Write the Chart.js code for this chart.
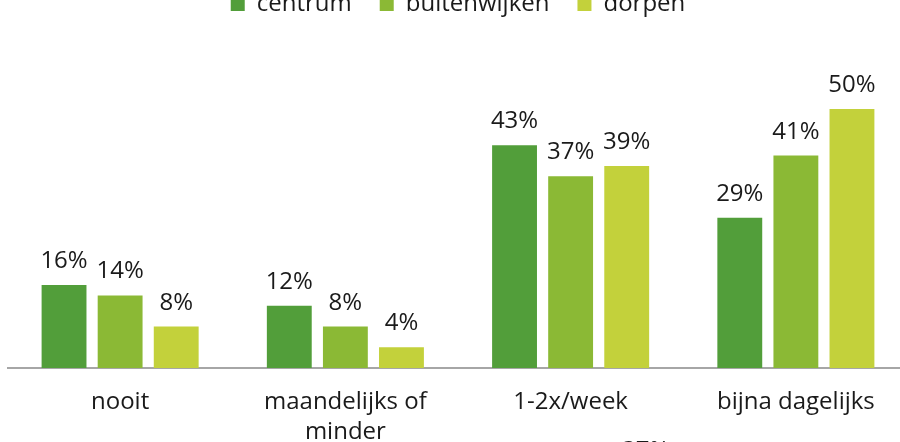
<!DOCTYPE html>
<html>
<head>
<meta charset="utf-8">
<script src="https://cdn.jsdelivr.net/npm/chart.js@4.4.1/dist/chart.umd.min.js"></script>
<style>
  html, body { margin: 0; padding: 0; background: #fff; }
  #wrap { position: relative; width: 900px; height: 442px; overflow: hidden; }
  #box { position: absolute; left: 0; top: -36px; width: 916px; height: 494px; }
  #stray { position: absolute; left: 622px; top: 432px; font: 24px "Open Sans", sans-serif; color: #1a1a1a; }
</style>
</head>
<body>
<div id="wrap">
  <div id="box"><canvas id="chart"></canvas></div>
  <div id="stray">37%</div>
</div>
<script>
const categories = ["nooit", ["maandelijks of", "minder"], "1-2x/week", "bijna dagelijks"];
const centrum = [16, 12, 43, 29];
const buitenwijken = [14, 8, 37, 41];
const dorpen = [8, 4, 39, 50];
const seriesNames = ["centrum", "buitenwijken", "dorpen"];
const colors = ["#529E3A", "#8BB935", "#C3D13B"];

const FONT = "'Open Sans', sans-serif";

// percent labels above each bar
const barLabels = {
  id: "barLabels",
  afterDatasetsDraw(chart) {
    const ctx = chart.ctx;
    ctx.save();
    ctx.font = "24px " + FONT;
    ctx.fillStyle = "#1a1a1a";
    ctx.textAlign = "center";
    ctx.textBaseline = "alphabetic";
    chart.data.datasets.forEach((ds, i) => {
      chart.getDatasetMeta(i).data.forEach((bar, j) => {
        ctx.fillText(ds.data[j] + "%", bar.x, bar.y - 17);
      });
    });
    ctx.restore();
  }
};

const ctx = document.getElementById("chart").getContext("2d");
new Chart(ctx, {
  type: "bar",
  data: {
    labels: categories,
    datasets: [
      { label: seriesNames[0], data: centrum, backgroundColor: colors[0] },
      { label: seriesNames[1], data: buitenwijken, backgroundColor: colors[1] },
      { label: seriesNames[2], data: dorpen, backgroundColor: colors[2] }
    ]
  },
  options: {
    responsive: true,
    maintainAspectRatio: false,
    animation: false,
    datasets: { bar: { barPercentage: 0.8, categoryPercentage: 0.747 } },
    layout: { padding: { left: 7.5, right: 7.5, top: 0, bottom: 0 } },
    plugins: {
      legend: {
        position: "top",
        labels: {
          boxWidth: 14,
          boxHeight: 14,
          padding: 28,
          color: "#1a1a1a",
          font: { family: FONT, size: 24 }
        }
      },
      tooltip: { enabled: false }
    },
    scales: {
      x: {
        grid: { display: false },
        border: { color: "#A6A6A6", width: 2 },
        ticks: {
          color: "#1a1a1a",
          padding: 11,
          maxRotation: 0,
          font: { family: FONT, size: 24, lineHeight: 1.25 }
        }
      },
      y: { display: false, min: 0, max: 66 }
    }
  },
  plugins: [barLabels]
});
</script>
</body>
</html>
